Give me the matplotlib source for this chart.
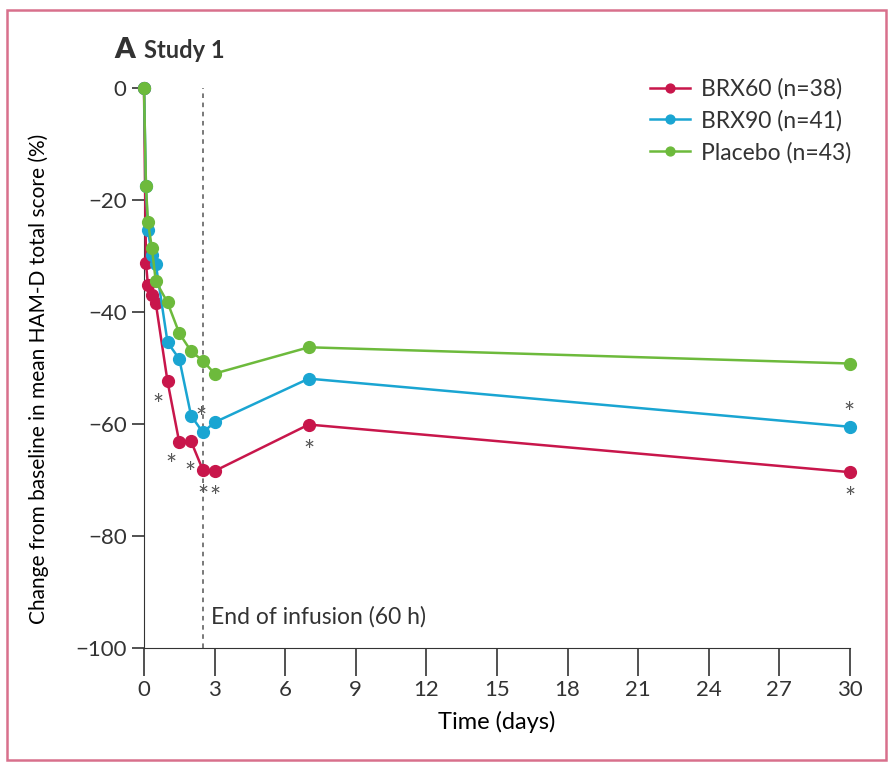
"""Study 1: change from baseline in HAM-D total score over time."""
import matplotlib
matplotlib.use("Agg")
import matplotlib.pyplot as plt
from matplotlib.patches import Rectangle

plt.rcParams.update({
    "font.family": ["Lato", "DejaVu Sans"],
    "axes.edgecolor": "#333",
    "xtick.color": "#333",
    "ytick.color": "#333",
    "text.color": "#333",
})

# ----- data -----
# assessment times: 0, 2, 4, 8, 12, 24, 36, 48, 60, 72 h, day 7, day 30
hours = [0, 2, 4, 8, 12, 24, 36, 48, 60, 72, 168, 720]
days = [h / 24 for h in hours]

brx60 = [0, -31.2, -35.2, -37.0, -38.4, -52.4, -63.3, -63.1, -68.2, -68.4, -60.1, -68.6]
brx90 = [0, -17.5, -25.4, -29.9, -31.4, -45.4, -48.4, -58.5, -61.5, -59.7, -51.9, -60.5]
placebo = [0, -17.5, -23.9, -28.5, -34.5, -38.3, -43.8, -47.0, -48.7, -51.0, -46.3, -49.2]

series_labels = ["BRX60 (n=38)", "BRX90 (n=41)", "Placebo (n=43)"]
series_colors = ["#c8164b", "#1aa5d2", "#6dba3c"]

# asterisks: time indices flagged below the BRX60 line and above the BRX90 line
stars_red = [5, 6, 7, 8, 9, 10, 11]
stars_blue = [8, 11]

infusion_end = 2.5  # 60 h

fig = plt.figure(figsize=(8.95, 7.79), dpi=100)
ax = fig.add_axes([144 / 895, 131 / 779, 706 / 895, 560 / 779])

for vals, lab, col in zip([brx60, brx90, placebo], series_labels, series_colors):
    ax.plot(days, vals, color=col, lw=1.8, marker="o", ms=8.5, mec=col,
            label=lab, clip_on=False, zorder=3)

ax.axvline(infusion_end, color="#555", ls=(0, (3, 3)), lw=1.1, zorder=1)
ax.text(infusion_end + 0.35, -94.5, "End of infusion (60 h)", fontsize=16.5,
        ha="left", va="center")

# significance markers
red_offsets = {5: (-7, -18), 6: (-6, -17), 7: (-1, -24)}
for i in stars_red:
    dx, dy = red_offsets.get(i, (0, -20))
    ax.annotate("*", (days[i], brx60[i]), xytext=(dx, dy), textcoords="offset points",
                ha="center", va="center", fontsize=19, color="#555")
for i in stars_blue:
    ax.annotate("*", (days[i], brx90[i]), xytext=(-1, 9), textcoords="offset points",
                ha="center", va="center", fontsize=19, color="#555")

ax.set_xlim(0, 30)
ax.set_ylim(-100, 0)
ax.set_xticks(range(0, 31, 3))
ax.set_yticks(range(-100, 1, 20))
ax.spines[["top", "right"]].set_visible(False)
ax.tick_params(axis="y", length=8.5, width=1.2, labelsize=16, pad=4)
ax.tick_params(axis="x", length=20, width=1.2, labelsize=16, pad=3, direction="out")
ax.set_xlabel("Time (days)", fontsize=17, labelpad=8)
ax.set_ylabel("Change from baseline in mean HAM-D total score (%)", fontsize=15)
ax.yaxis.set_label_coords(-0.134, 0.48)

ax.legend(loc="upper left", bbox_to_anchor=(641 / 895, 1 - 69 / 779),
          bbox_transform=fig.transFigure, borderaxespad=0, frameon=False,
          fontsize=16.5, handlelength=1.75, handletextpad=0.45, labelspacing=0.45,
          markerscale=0.75)

fig.text(114 / 895, 1 - 50 / 779, "A", fontsize=21, fontweight="heavy", va="center")
fig.text(144 / 895, 1 - 51 / 779, "Study 1", fontsize=17, fontweight="bold", va="center")

# pink frame round the panel
fig.patches.append(Rectangle((7 / 895, 1 - 760 / 779), 879 / 895, 750 / 779,
                             transform=fig.transFigure, fill=False,
                             edgecolor="#d8708c", lw=1.8))

fig.savefig("out.png", dpi=100)
